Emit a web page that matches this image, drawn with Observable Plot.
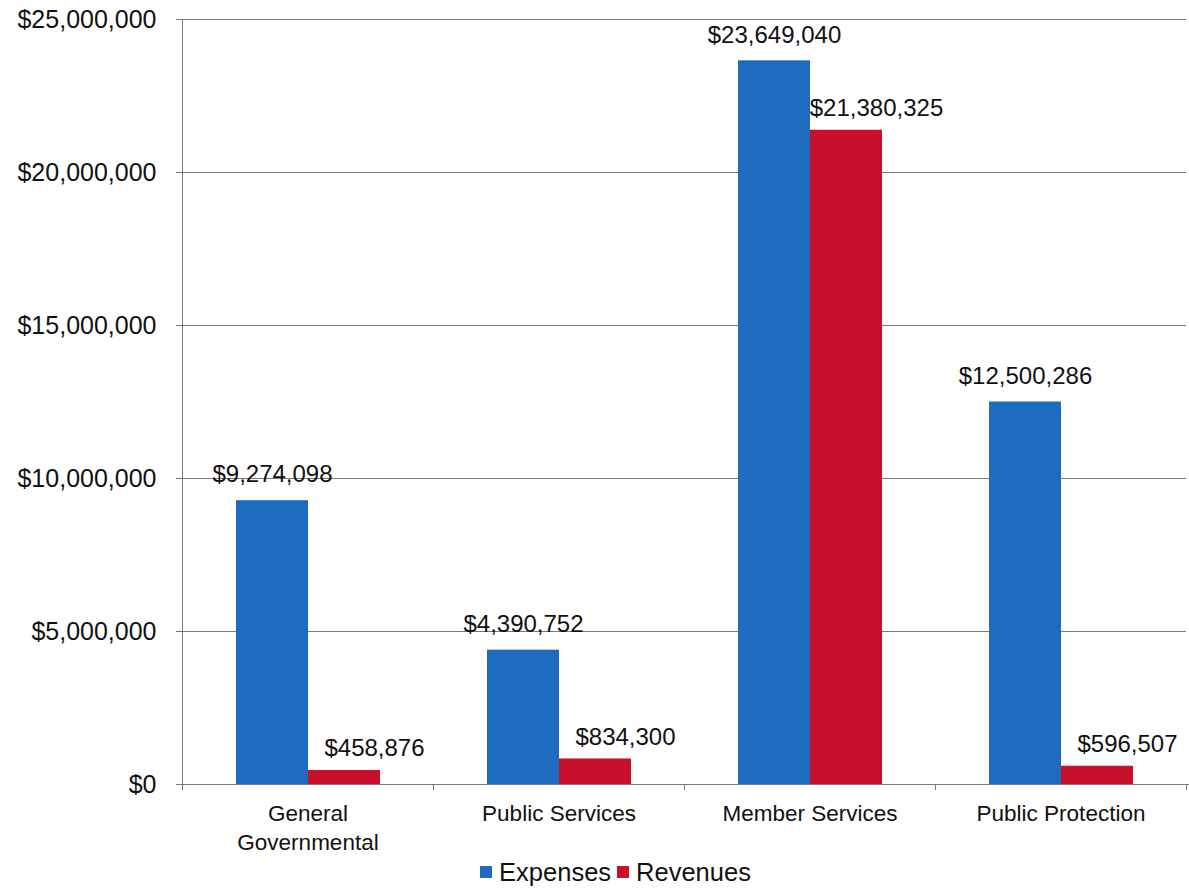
<!DOCTYPE html>
<html><head><meta charset="utf-8">
<script src="https://cdn.jsdelivr.net/npm/d3@7"></script>
<script src="https://cdn.jsdelivr.net/npm/@observablehq/plot@0.6"></script>
<style>
body{margin:0;background:#fff;font-family:"Liberation Sans",Arial,sans-serif;color:#111;}
#legend{height:34px;display:flex;align-items:center;justify-content:center;padding-left:42px;font-size:25.5px;gap:6px;}
#legend .sw{display:inline-block;width:12px;height:12px;margin-right:7px;}
#legend .item{display:flex;align-items:center;}
</style></head><body><div id="chart"></div><div id="legend"></div>
<script>
const categories = ["General\nGovernmental", "Public Services", "Member Services", "Public Protection"];
const series = ["Expenses", "Revenues"];
const expenses = [9274098, 4390752, 23649040, 12500286];
const revenues = [458876, 834300, 21380325, 596507];
const yTicks = [0, 5000000, 10000000, 15000000, 20000000, 25000000];
const colors = ["#1d6cc0", "#c8102c"];

const data = categories.flatMap((c, i) => [
  {category: c, series: series[0], value: expenses[i]},
  {category: c, series: series[1], value: revenues[i]}
]);
const fmt = d3.format("$,.0f");
const W = 1189, H = 855;

const plot = Plot.plot({
  width: W, height: H,
  marginLeft: 182, marginRight: 3, marginTop: 19, marginBottom: 71,
  style: {fontFamily: "'Liberation Sans', Arial, sans-serif", fontSize: "23px", background: "#fff", color: "#111", overflow: "visible"},
  fx: {domain: categories, padding: 0, label: null, axis: null},
  x: {domain: series, axis: null, paddingInner: 0, paddingOuter: 0.743},
  y: {domain: [0, 25000000], label: null},
  color: {domain: series, range: colors},
  marks: [
    Plot.gridY(yTicks, {stroke: "#7a7a7a", strokeOpacity: 1, strokeWidth: 1}),
    Plot.axisY(yTicks, {tickFormat: fmt, tickSize: 6, tickPadding: 20, fontSize: 25, label: null, stroke: "#7a7a7a"}),
    Plot.axisFx({anchor: "bottom", tickSize: 0, tickPadding: 15, lineHeight: 1.32, fontSize: 22.5, label: null}),
    Plot.barY(data, {fx: "category", x: "series", y: "value", fill: "series"}),
    Plot.text(data.filter(d => d.series === series[0]), {fx: "category", x: "series", y: "value", text: d => fmt(d.value), dy: -26, fontSize: 24, fill: "#111"}),
    Plot.text(data.filter(d => d.series === series[1]), {fx: "category", x: "series", y: "value", text: d => fmt(d.value), dy: -22, dx: 30, fontSize: 24, fill: "#111"})
  ]
});
document.getElementById("chart").appendChild(plot);

// axis line and category boundary ticks, positioned from Plot's scales
const fx = plot.scale("fx"), y = plot.scale("y");
const svg = d3.select(plot);
const x0 = fx.apply(categories[0]);
const y0 = y.apply(0), yTop = y.apply(25000000);
const g = svg.append("g").attr("stroke", "#7a7a7a").attr("stroke-width", 1);
g.append("line").attr("x1", x0 + 0.5).attr("x2", x0 + 0.5).attr("y1", yTop).attr("y2", y0 + 6);
const bounds = categories.map(c => fx.apply(c)).concat([fx.apply(categories[categories.length - 1]) + fx.bandwidth]);
bounds.slice(1).forEach(b => g.append("line").attr("x1", b + 0.5).attr("x2", b + 0.5).attr("y1", y0).attr("y2", y0 + 6));
g.append("line").attr("x1", x0 - 6).attr("x2", W).attr("y1", y0 + 0.5).attr("y2", y0 + 0.5);

const legend = document.getElementById("legend");
series.forEach((s, i) => {
  const item = document.createElement("span");
  item.className = "item";
  item.innerHTML = `<span class="sw" style="background:${colors[i]}"></span>${s}`;
  legend.appendChild(item);
});
</script>
</body></html>
